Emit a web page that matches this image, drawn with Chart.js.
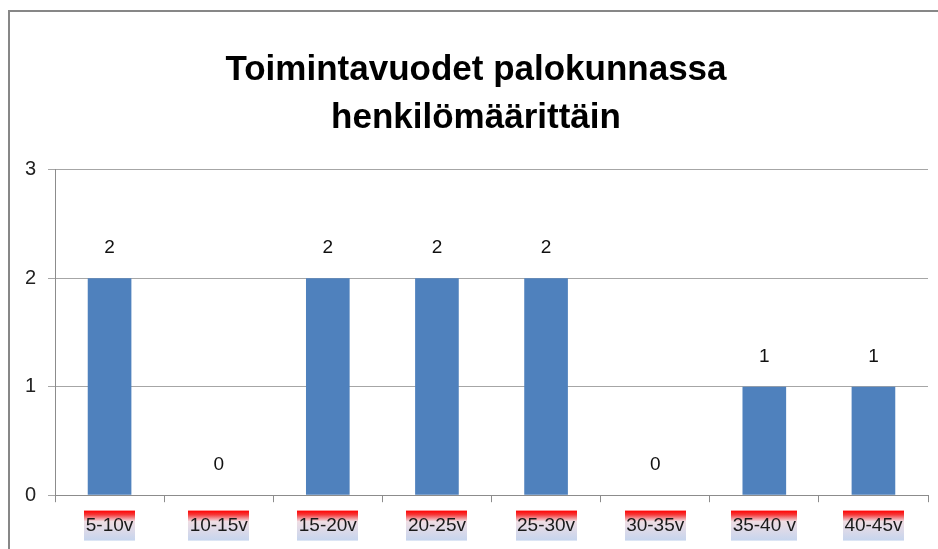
<!DOCTYPE html>
<html>
<head>
<meta charset="utf-8">
<script src="https://cdn.jsdelivr.net/npm/chart.js@4.4.1/dist/chart.umd.min.js"></script>
<style>
    html, body { margin: 0; padding: 0; background: #fff; }
    #wrap { position: relative; width: 938px; height: 549px; overflow: hidden; }
    #frame {
        position: absolute; left: 8px; top: 10px; width: 960px; height: 600px;
        border-left: 2px solid #878787; border-top: 2px solid #878787;
    }
    #chart { position: absolute; left: 0; top: 0; }
</style>
</head>
<body>
<div id="wrap">
    <div id="frame"></div>
    <canvas id="chart" width="938" height="549"></canvas>
</div>
<script>
    // Chart data
    const categories = ['5-10v', '10-15v', '15-20v', '20-25v', '25-30v', '30-35v', '35-40 v', '40-45v'];
    const persons = [2, 0, 2, 2, 2, 0, 1, 1];
    const yTicks = [0, 1, 2, 3];
    const titleLines = ['Toimintavuodet palokunnassa', 'henkilömäärittäin'];

    const FONT = "'Liberation Sans', Arial, sans-serif";

    // Gradient boxes behind the category labels (red top fading to light blue)
    const labelBoxes = {
        id: 'labelBoxes',
        beforeDraw(chart) {
            const xs = chart.scales.x;
            const ctx = chart.ctx;
            const opts = xs.options.ticks;
            const fontSize = opts.font.size;
            const lineH = fontSize * 1.2;
            const cy = xs.top + xs.options.grid.tickLength + opts.padding + lineH / 2;
            ctx.save();
            ctx.font = fontSize + 'px ' + FONT;
            categories.forEach((c, i) => {
                const x = xs.getPixelForTick(i);
                const w = ctx.measureText(c).width + 3;
                const top = cy - 15, h = 30;
                const g = ctx.createLinearGradient(0, top, 0, top + h);
                g.addColorStop(0, '#ff0000');
                g.addColorStop(0.14, '#f53b3b');
                g.addColorStop(0.36, '#efdde3');
                g.addColorStop(1, '#c6d5ee');
                ctx.fillStyle = g;
                ctx.fillRect(Math.round(x - w / 2), top, Math.round(w), h);
            });
            ctx.restore();
        }
    };

    // Value labels above each bar
    const valueLabels = {
        id: 'valueLabels',
        afterDatasetsDraw(chart) {
            const ctx = chart.ctx;
            const meta = chart.getDatasetMeta(0);
            ctx.save();
            ctx.font = '19px ' + FONT;
            ctx.fillStyle = '#111';
            ctx.textAlign = 'center';
            ctx.textBaseline = 'middle';
            meta.data.forEach((bar, i) => {
                ctx.fillText(String(persons[i]), bar.x, bar.y - 30);
            });
            ctx.restore();
        }
    };

    new Chart(document.getElementById('chart'), {
        type: 'bar',
        data: {
            labels: categories,
            datasets: [{
                data: persons,
                backgroundColor: '#4f81bd',
                borderWidth: 0,
                categoryPercentage: 1,
                barPercentage: 0.4
            }]
        },
        options: {
            responsive: false,
            animation: false,
            // some left padding nudges the centred title right, like the original
            layout: { padding: { left: 24, right: 10, top: 0, bottom: 0 } },
            plugins: {
                legend: { display: false },
                tooltip: { enabled: false },
                title: {
                    display: true,
                    text: titleLines,
                    color: '#000',
                    font: { family: FONT, size: 35, weight: 'bold', lineHeight: 1.38 },
                    padding: { top: 46, bottom: 27 }
                }
            },
            scales: {
                x: {
                    grid: {
                        offset: true,
                        drawOnChartArea: false,
                        drawTicks: true,
                        tickLength: 7,
                        color: '#8c8c8c'
                    },
                    border: { color: '#8c8c8c', width: 1 },
                    ticks: {
                        color: '#1a1a1a',
                        font: { family: FONT, size: 19 },
                        padding: 12,
                        maxRotation: 0
                    }
                },
                y: {
                    min: 0,
                    max: 3,
                    afterBuildTicks(scale) {
                        scale.ticks = yTicks.map(v => ({ value: v }));
                    },
                    afterFit(scale) { scale.width = 31; },
                    grid: {
                        color: '#a6a6a6',
                        tickLength: 7,
                        drawTicks: true
                    },
                    border: { color: '#8c8c8c', width: 1 },
                    ticks: {
                        color: '#222',
                        font: { family: FONT, size: 20 },
                        padding: 12
                    }
                }
            }
        },
        plugins: [labelBoxes, valueLabels]
    });
</script>
</body>
</html>
